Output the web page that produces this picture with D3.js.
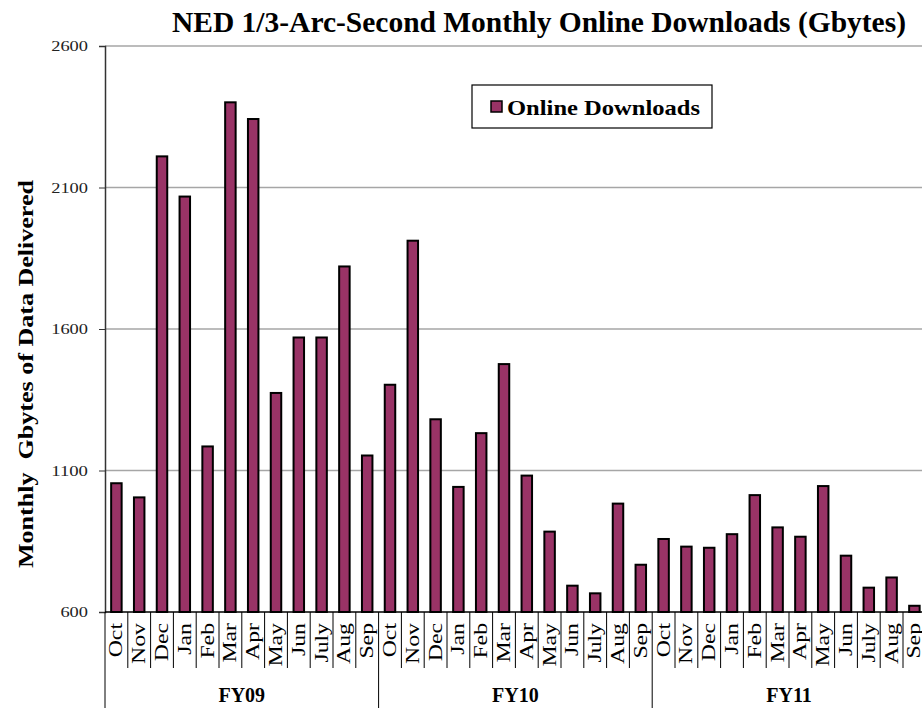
<!DOCTYPE html>
<html>
<head>
<meta charset="utf-8">
<script src="https://cdn.jsdelivr.net/npm/d3@7"></script>
<style>
  body { margin: 0; background: #fff; }
  svg { display: block; font-family: "Liberation Serif", "Times New Roman", serif; }
</style>
</head>
<body>
<div id="viz"></div>
<script>
var width = 922,
    height = 708;

// Data
var years = ["FY09", "FY10", "FY11"];
var months = ["Oct", "Nov", "Dec", "Jan", "Feb", "Mar", "Apr", "May", "Jun", "July", "Aug", "Sep"];
var fy09 = [1055, 1005, 2210, 2068, 1185, 2401, 2342, 1374, 1570, 1570, 1821, 1153];
var fy10 = [1403, 1912, 1281, 1042, 1232, 1476, 1082, 884, 693, 666, 983, 767];
var fy11 = [858, 831, 827, 875, 1013, 899, 866, 1045, 799, 686, 722, 622];
var yTicks = [600, 1100, 1600, 2100, 2600];

var data = [];
[fy09, fy10, fy11].forEach(function(vals, yi) {
    vals.forEach(function(v, mi) {
        data.push({ key: years[yi] + "-" + months[mi], year: years[yi], month: months[mi], value: v });
    });
});

// plot area (note: "top" is reserved on window, so use other names)
var plotLeft = 105,
    plotTop = 46,
    plotBottom = 612,
    step = 22.8;

var x = d3.scaleBand()
    .domain(data.map(function(d) { return d.key; }))
    .range([plotLeft, plotLeft + step * data.length])
    .paddingInner(0.54)
    .paddingOuter(0.27);

var y = d3.scaleLinear()
    .domain([600, 2600])
    .range([plotBottom, plotTop]);

var svg = d3.select("#viz").append("svg")
    .attr("width", width)
    .attr("height", height);

// gridlines
svg.append("g")
    .selectAll("line")
    .data(yTicks.slice(1))
    .enter().append("line")
    .attr("x1", plotLeft)
    .attr("x2", width)
    .attr("y1", function(d) { return y(d); })
    .attr("y2", function(d) { return y(d); })
    .attr("stroke", "#a6a6a6")
    .attr("stroke-width", 1.5);

// y axis
var yAxis = svg.append("g")
    .attr("transform", "translate(" + plotLeft + ",0)")
    .call(d3.axisLeft(y).tickValues(yTicks).tickSize(6).tickPadding(11).tickFormat(d3.format("d")));
yAxis.select(".domain").attr("stroke", "#333").attr("stroke-width", 1.5);
yAxis.selectAll(".tick line").attr("stroke", "#333");
// the reference digits are drawn a bit wide
yAxis.selectAll("text")
    .attr("font-family", "Liberation Serif, serif")
    .attr("font-size", 15)
    .attr("fill", "#222")
    .attr("textLength", function(d) { return String(d).length * 9.2; })
    .attr("lengthAdjust", "spacingAndGlyphs");

// bars
svg.append("g")
    .selectAll("rect")
    .data(data)
    .enter().append("rect")
    .attr("x", function(d) { return x(d.key); })
    .attr("width", x.bandwidth())
    .attr("y", function(d) { return y(d.value); })
    .attr("height", function(d) { return y(600) - y(d.value); })
    .attr("fill", "#993366")
    .attr("stroke", "#000")
    .attr("stroke-width", 2);

// baseline
svg.append("line")
    .attr("x1", plotLeft).attr("x2", width)
    .attr("y1", plotBottom).attr("y2", plotBottom)
    .attr("stroke", "#000")
    .attr("stroke-width", 1.5);

// month separators
var bounds = d3.range(data.length + 1).map(function(i) { return plotLeft + x.step() * i; });
svg.append("g")
    .selectAll("line")
    .data(bounds)
    .enter().append("line")
    .attr("x1", function(d) { return d; })
    .attr("x2", function(d) { return d; })
    .attr("y1", plotBottom)
    .attr("y2", function(d, i) { return i % 12 === 0 ? height : 668; })
    .attr("stroke", "#000")
    .attr("stroke-width", 1);

// month labels
svg.append("g")
    .selectAll("text")
    .data(data)
    .enter().append("text")
    .attr("transform", function(d) {
        return "translate(" + (x(d.key) + x.bandwidth() / 2 + 6) + ",623) rotate(-90) scale(1.25,1)";
    })
    .attr("text-anchor", "end")
    .attr("font-size", 19)
    .attr("fill", "#000")
    .text(function(d) { return d.month; });

// fiscal year labels
svg.append("g")
    .selectAll("text")
    .data(years)
    .enter().append("text")
    .attr("x", function(d, i) { return plotLeft + x.step() * (i * 12 + 6); })
    .attr("y", 702)
    .attr("text-anchor", "middle")
    .attr("font-size", 20)
    .attr("font-weight", "bold")
    .text(function(d) { return d; });

// title
svg.append("text")
    .attr("x", 172)
    .attr("y", 32)
    .attr("font-size", 29)
    .attr("font-weight", "bold")
    .attr("textLength", 734)
    .attr("lengthAdjust", "spacingAndGlyphs")
    .text("NED 1/3-Arc-Second Monthly Online Downloads (Gbytes)");

// y title
svg.append("text")
    .attr("transform", "translate(33,374) rotate(-90)")
    .attr("text-anchor", "middle")
    .attr("font-size", 22)
    .attr("font-weight", "bold")
    .attr("textLength", 388)
    .attr("lengthAdjust", "spacingAndGlyphs")
    .style("white-space", "pre")
    .text("Monthly  Gbytes of Data Delivered");

// legend
var legend = svg.append("g");
legend.append("rect")
    .attr("x", 472).attr("y", 85)
    .attr("width", 240).attr("height", 43)
    .attr("fill", "#fff")
    .attr("stroke", "#000")
    .attr("stroke-width", 1.2);
legend.append("rect")
    .attr("x", 491).attr("y", 101)
    .attr("width", 11).attr("height", 11)
    .attr("fill", "#993366")
    .attr("stroke", "#000")
    .attr("stroke-width", 1.5);
legend.append("text")
    .attr("x", 507).attr("y", 115)
    .attr("font-size", 21)
    .attr("font-weight", "bold")
    .attr("textLength", 193)
    .attr("lengthAdjust", "spacingAndGlyphs")
    .text("Online Downloads");
</script>
</body>
</html>
